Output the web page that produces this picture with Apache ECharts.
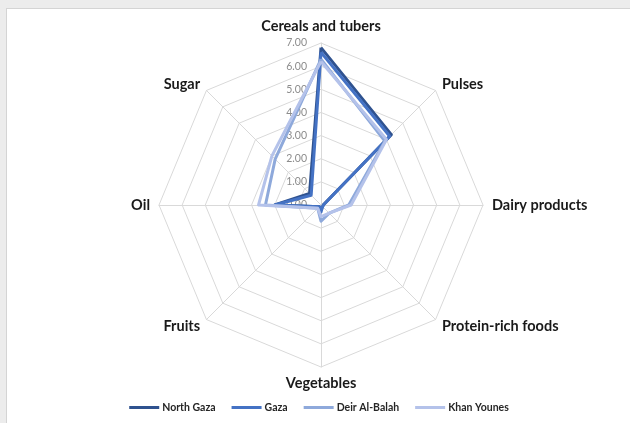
<!DOCTYPE html>
<html>
<head>
<meta charset="utf-8">
<script src="https://cdn.jsdelivr.net/npm/echarts@6/dist/echarts.min.js"></script>
<style>
html,body{margin:0;padding:0;background:#ececec;width:630px;height:423px;overflow:hidden;}
#chart{position:absolute;left:6px;top:8px;width:624px;height:415px;background:#fff;border-left:1px solid #d4d4d4;border-top:1px solid #d4d4d4;}
</style>
</head>
<body>
<div id="chart"></div>
<script>
// categories in clockwise order starting at the top
const categories = ['Cereals and tubers','Pulses','Dairy products','Protein-rich foods','Vegetables','Fruits','Oil','Sugar'];
const seriesNames = ['North Gaza','Gaza','Deir Al-Balah','Khan Younes'];
const northGaza   = [6.80, 4.30, 0.10, 0.10, 0.20, 0.10, 2.00, 0.70];
const gaza        = [6.60, 4.20, 0.10, 0.10, 0.30, 0.10, 2.00, 0.60];
const deirAlBalah = [6.30, 3.90, 1.20, 0.50, 0.70, 0.20, 2.40, 2.80];
const khanYounes  = [6.20, 4.00, 1.30, 0.50, 0.50, 0.20, 2.70, 3.00];
const tickValues = [0,1,2,3,4,5,6,7];
const colors = ['#2f528f','#4472c4','#8ea9db','#b4c2ea'];

// ECharts lays radar indicators counter-clockwise; reorder to get clockwise
function cw(arr){ return [arr[0]].concat(arr.slice(1).reverse()); }
const allData = [northGaza, gaza, deirAlBalah, khanYounes];

const chart = echarts.init(document.getElementById('chart'));
const center = [314, 196];
const radius = 162;
chart.setOption({
  animation:false,
  legend:{
    bottom:6, left:'center', itemWidth:30, itemHeight:3, itemGap:16,
    icon:'rect',
    textStyle:{fontFamily:'Lato', fontWeight:'bold', fontSize:10.5, color:'#262626', padding:[0,0,0,-2]},
    data:seriesNames
  },
  polar:{center:center, radius:radius},
  angleAxis:{show:false, startAngle:90, min:0, max:360},
  radiusAxis:{
    min:tickValues[0], max:tickValues[tickValues.length-1], interval:1,
    axisLine:{show:false}, axisTick:{show:false}, splitLine:{show:false},
    axisLabel:{formatter:v=>v.toFixed(2), color:'#8c8c8c', fontFamily:'Lato', fontSize:10.5, align:'right', padding:[0,6,0,0]}
  },
  radar:{
    center:center, radius:radius, startAngle:90, shape:'polygon', splitNumber:7,
    axisName:{color:'#1a1a1a', fontFamily:'Lato', fontWeight:'bold', fontSize:14.5},
    nameGap:9,
    splitLine:{lineStyle:{color:'#d9d9d9', width:1}},
    splitArea:{show:false},
    axisLine:{lineStyle:{color:'#d9d9d9', width:1}},
    indicator:cw(categories).map(c=>({name:c, min:0, max:7}))
  },
  series:[{
    type:'radar',
    symbol:'none',
    data:allData.map((d,i)=>({
      name:seriesNames[i], value:cw(d),
      lineStyle:{color:colors[i], width:3},
      itemStyle:{color:colors[i]}
    }))
  }]
});
</script>
</body>
</html>
